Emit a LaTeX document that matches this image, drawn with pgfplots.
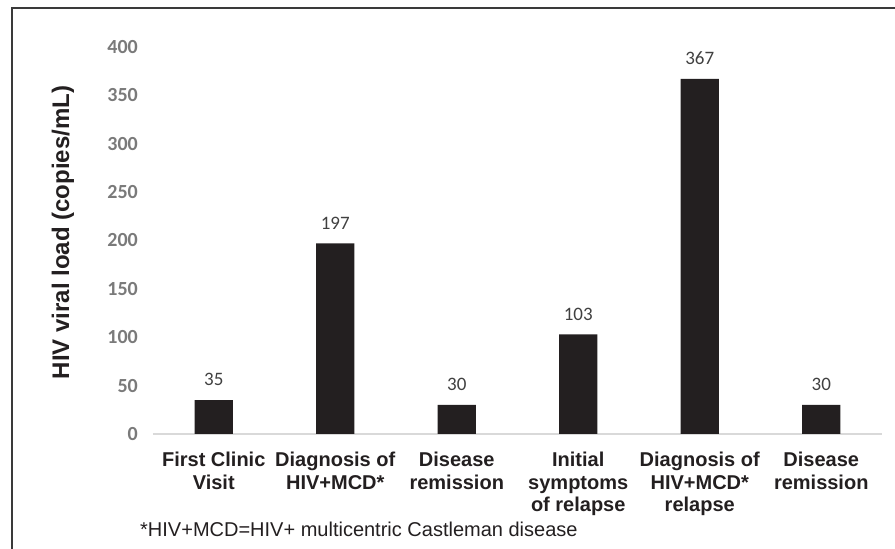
\documentclass[border=0pt]{standalone}
\usepackage{pgfplots}
\pgfplotsset{compat=1.18}
\usepackage{fontspec}
\setmainfont{Liberation Sans}
\newfontfamily\carlito{Carlito}
\definecolor{barc}{HTML}{231F20}
\definecolor{tickc}{HTML}{7A7A7A}
\definecolor{lblc}{HTML}{404040}
\definecolor{axc}{HTML}{D9D9D9}
\definecolor{framec}{HTML}{3A3A3A}
\begin{document}
\begin{tikzpicture}[x=1pt,y=1pt]
\path[use as bounding box] (0,0) rectangle (895,549);
\draw[line width=2pt, color=framec] (12,0) -- (12,541) -- (895,541);
\begin{axis}[
  at={(153pt,115pt)}, anchor=south west,
  width=729pt, height=387pt, scale only axis,
  xmin=-0.5, xmax=5.5, ymin=0, ymax=400,
  axis x line=bottom, axis y line=left,
  x axis line style={draw=axc, line width=2pt, -},
  y axis line style={draw=none, -},
  major tick length=0pt,
  /pgf/number format/assume math mode=true,
  xtick={0,1,2,3,4,5},
  xticklabels={{First Clinic\\Visit},{Diagnosis of\\HIV+MCD*},{Disease\\remission},{Initial\\symptoms\\of relapse},{Diagnosis of\\HIV+MCD*\\relapse},{Disease\\remission}},
  xticklabel style={font=\bfseries\fontsize{20}{22.5}\selectfont, align=center, anchor=north, inner sep=0pt, yshift=-18pt, color=barc},
  ytick={0,50,...,400},
  yticklabel style={font=\carlito\bfseries\fontsize{20}{20}\selectfont, color=tickc, anchor=east, inner sep=0pt, xshift=-15pt},
  ylabel={HIV viral load (copies/mL)},
  every axis y label/.style={at={(axis description cs:-0.1152,0.5207)}, rotate=90, anchor=base, font=\bfseries\fontsize{24}{24}\selectfont, color=barc},
  ybar,
  bar width=38.4pt,
  nodes near coords,
  nodes near coords style={font=\carlito\fontsize{19}{19}\selectfont, color=lblc, anchor=south, inner sep=0pt, yshift=14pt},
  clip=false,
]
\addplot[ybar, fill=barc, draw=none, bar width=38.4pt] coordinates {(0,35) (1,197) (2,30) (3,103) (4,367) (5,30)};
\end{axis}
\node[anchor=base west, inner sep=0pt, font=\fontsize{20}{20}\selectfont, color=barc] at (140,12) {*HIV+MCD=HIV+ multicentric Castleman disease};
\end{tikzpicture}
\end{document}
